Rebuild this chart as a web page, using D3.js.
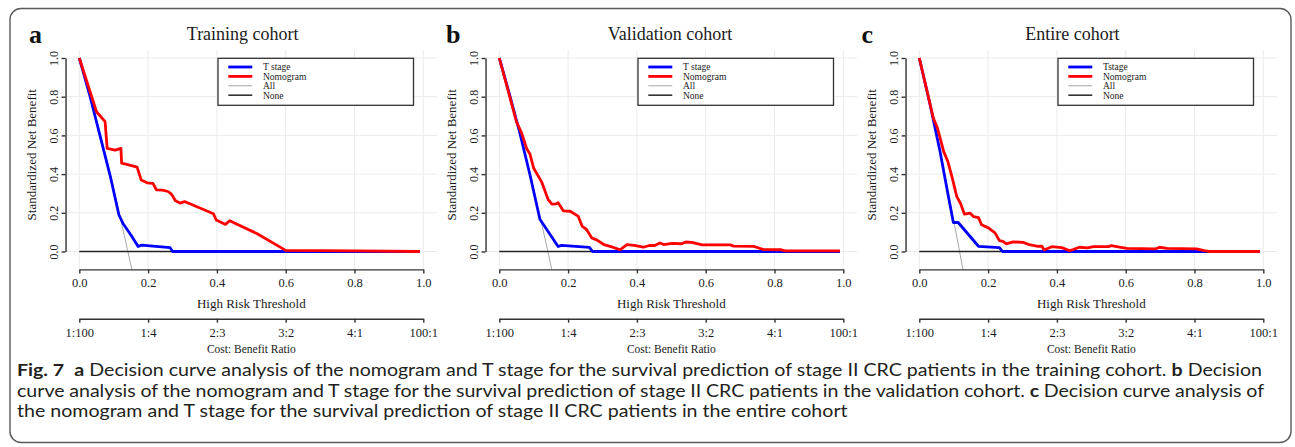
<!DOCTYPE html>
<html><head><meta charset="utf-8">
<script src="https://cdn.jsdelivr.net/npm/d3@7"></script>
<style>
html,body{margin:0;padding:0;background:#fff;}
svg{display:block;}
</style></head>
<body>
<svg id="chart" width="1295" height="447"></svg>
<script>
// ---------- data ----------
const thresholdTicks = [0, 0.2, 0.4, 0.6, 0.8, 1.0];
const ratioLabels = ["1:100", "1:4", "2:3", "3:2", "4:1", "100:1"];
const yTicks = [0, 0.2, 0.4, 0.6, 0.8, 1.0];
const panelLetters = ["a", "b", "c"];
const panelTitles = ["Training cohort", "Validation cohort", "Entire cohort"];
const tStageLabels = ["T stage", "T stage", "Tstage"];
const otherLegendLabels = ["Nomogram", "All", "None"];

const trainingTstage = [[0,1],[0.03,0.81],[0.06,0.6],[0.09,0.39],[0.105,0.27],[0.115,0.19],[0.128,0.142],[0.15,0.085],[0.171,0.026],[0.181,0.033],[0.264,0.02],[0.271,0],[0.99,0]];
const trainingNomogram = [[0,1],[0.05,0.722],[0.075,0.671],[0.078,0.6],[0.081,0.533],[0.104,0.524],[0.121,0.533],[0.123,0.457],[0.152,0.444],[0.168,0.436],[0.18,0.369],[0.197,0.355],[0.214,0.352],[0.224,0.319],[0.242,0.317],[0.258,0.31],[0.268,0.296],[0.279,0.264],[0.293,0.25],[0.306,0.258],[0.39,0.195],[0.398,0.163],[0.425,0.14],[0.437,0.159],[0.516,0.093],[0.6,0.006],[0.8,0.003],[0.99,0]];
const trainingAll = [[0,1],[0.03,0.812],[0.06,0.611],[0.09,0.398],[0.12,0.169],[0.14,0.009],[0.153,-0.095]];

const validationTstage = [[0,1],[0.03,0.81],[0.06,0.61],[0.09,0.39],[0.118,0.167],[0.171,0.026],[0.181,0.032],[0.262,0.021],[0.271,0],[0.99,0]];
const validationNomogram = [[0,1],[0.05,0.67],[0.065,0.612],[0.08,0.53],[0.089,0.504],[0.1,0.43],[0.123,0.36],[0.142,0.268],[0.153,0.245],[0.165,0.246],[0.171,0.252],[0.186,0.21],[0.206,0.208],[0.229,0.183],[0.241,0.13],[0.253,0.115],[0.269,0.07],[0.283,0.06],[0.304,0.036],[0.327,0.024],[0.351,0.009],[0.371,0.035],[0.392,0.032],[0.419,0.022],[0.436,0.031],[0.452,0.031],[0.467,0.044],[0.478,0.036],[0.502,0.042],[0.53,0.04],[0.542,0.049],[0.559,0.047],[0.59,0.034],[0.672,0.034],[0.681,0.028],[0.739,0.027],[0.768,0.01],[0.82,0.009],[0.831,0.003],[0.99,0.003]];
const validationAll = [[0,1],[0.03,0.812],[0.06,0.611],[0.09,0.398],[0.12,0.169],[0.14,0.009],[0.153,-0.095]];

const entireTstage = [[0,1],[0.03,0.77],[0.06,0.52],[0.085,0.28],[0.099,0.15],[0.113,0.15],[0.172,0.027],[0.233,0.02],[0.242,0],[0.99,0]];
const entireNomogram = [[0,1],[0.041,0.688],[0.053,0.637],[0.071,0.516],[0.083,0.465],[0.095,0.386],[0.109,0.284],[0.12,0.248],[0.131,0.193],[0.148,0.198],[0.158,0.18],[0.172,0.175],[0.181,0.138],[0.201,0.122],[0.22,0.096],[0.233,0.056],[0.243,0.052],[0.253,0.039],[0.273,0.05],[0.302,0.047],[0.32,0.035],[0.345,0.026],[0.356,0.028],[0.363,0.008],[0.385,0.025],[0.414,0.02],[0.436,0.005],[0.448,0.01],[0.465,0.022],[0.489,0.019],[0.506,0.025],[0.55,0.025],[0.558,0.03],[0.586,0.021],[0.603,0.016],[0.688,0.014],[0.698,0.022],[0.72,0.016],[0.806,0.014],[0.828,0.005],[0.843,0],[0.99,0]];
const entireAll = [[0,1],[0.03,0.767],[0.06,0.518],[0.09,0.253],[0.11,0.067],[0.117,0],[0.127,-0.095]];

const noneLine = [[0,0],[0.99,0]];

const captionLines = [
  [["Fig. 7", true], ["  ", false], ["a", true], [" Decision curve analysis of the nomogram and T stage for the survival prediction of stage II CRC patients in the training cohort. ", false], ["b", true], [" Decision", false]],
  [["curve analysis of the nomogram and T stage for the survival prediction of stage II CRC patients in the validation cohort. ", false], ["c", true], [" Decision curve analysis of", false]],
  [["the nomogram and T stage for the survival prediction of stage II CRC patients in the entire cohort", false]]
];

// ---------- layout ----------
const titleCenters = [242.7, 670, 1072.4];
const letterX = [29, 446, 861.5];

// ---------- drawing ----------
const svg = d3.select("#chart");
const serif = "'Liberation Serif','Times New Roman',serif";

svg.append("rect").attr("x", 10).attr("y", 8.5).attr("width", 1281).attr("height", 434)
  .attr("rx", 11).attr("fill", "#fff").attr("stroke", "#5a5a5a").attr("stroke-width", 1.4);

const panels = [
  {tstage: trainingTstage, nomo: trainingNomogram, all: trainingAll},
  {tstage: validationTstage, nomo: validationNomogram, all: validationAll},
  {tstage: entireTstage, nomo: entireNomogram, all: entireAll}
];

panels.forEach((p, i) => {
  const ox = 420 * i;
  const x = d3.scaleLinear().domain([0, 1]).range([79.3 + ox, 423.3 + ox]);
  const y = d3.scaleLinear().domain([0, 1]).range([251.5, 58]);
  const xl = x(-0.04), xr = x(1.04), yt = y(1.042), yb = y(-0.0925);
  const g = svg.append("g");

  // grid
  g.selectAll(".hg").data(yTicks).join("line")
    .attr("x1", xl).attr("x2", xr).attr("y1", d => y(d)).attr("y2", d => y(d))
    .attr("stroke", "#ebebeb").attr("stroke-width", 1);
  g.selectAll(".vg").data(thresholdTicks).join("line")
    .attr("x1", d => x(d)).attr("x2", d => x(d)).attr("y1", yt).attr("y2", yb)
    .attr("stroke", "#ebebeb").attr("stroke-width", 1);

  // clip
  const cid = "clip" + i;
  svg.append("clipPath").attr("id", cid).append("rect")
    .attr("x", xl).attr("y", yt).attr("width", xr - xl).attr("height", yb - yt);
  const plot = g.append("g").attr("clip-path", `url(#${cid})`);
  const line = d3.line().x(d => x(d[0])).y(d => y(d[1]));

  plot.append("path").datum(p.all).attr("d", line).attr("fill", "none").attr("stroke", "#a8a8a8").attr("stroke-width", 1);
  plot.append("path").datum(noneLine).attr("d", line).attr("fill", "none").attr("stroke", "#222").attr("stroke-width", 1.4);
  plot.append("path").datum(p.tstage).attr("d", line).attr("fill", "none").attr("stroke", "#0000ff").attr("stroke-width", 2.8).attr("stroke-linejoin", "round");
  plot.append("path").datum(p.nomo).attr("d", line).attr("fill", "none").attr("stroke", "#ff0000").attr("stroke-width", 2.8).attr("stroke-linejoin", "round");

  // axes
  const styleAxis = sel => {
    sel.attr("font-family", serif);
    sel.select(".domain").attr("stroke", "#333").attr("stroke-width", 1.4);
    sel.selectAll(".tick line").attr("stroke", "#333").attr("stroke-width", 1.4);
    sel.selectAll(".tick text").attr("font-family", serif).attr("fill", "#1a1a1a");
  };
  const xAxis = g.append("g").attr("transform", `translate(0,${yb})`)
    .call(d3.axisBottom(x).tickValues(thresholdTicks).tickSize(4).tickSizeOuter(0).tickPadding(5).tickFormat(d3.format(".1f")));
  xAxis.attr("font-size", 12.5).call(styleAxis);

  const rAxis = g.append("g").attr("transform", `translate(0,318.7)`)
    .call(d3.axisBottom(x).tickValues(thresholdTicks).tickSize(4).tickSizeOuter(0).tickPadding(5).tickFormat((d, k) => ratioLabels[k]));
  rAxis.attr("font-size", 12.5).call(styleAxis);

  const yAxis = g.append("g").attr("transform", `translate(${xl},0)`)
    .call(d3.axisLeft(y).tickValues(yTicks).tickSize(4).tickSizeOuter(0).tickFormat(d3.format(".1f")));
  yAxis.attr("font-size", 12).call(styleAxis);
  yAxis.selectAll(".tick text").attr("x", 0).attr("y", -8).attr("dy", null)
    .attr("text-anchor", "middle").attr("transform", "rotate(-90)");

  // labels
  g.append("text").attr("x", x(0.5)).attr("y", 307.5).attr("text-anchor", "middle")
    .attr("font-family", serif).attr("font-size", 13).attr("fill", "#1a1a1a").text("High Risk Threshold");
  g.append("text").attr("x", x(0.5)).attr("y", 352.5).attr("text-anchor", "middle")
    .attr("font-family", serif).attr("font-size", 11.5).attr("fill", "#1a1a1a").text("Cost: Benefit Ratio");
  g.append("text").attr("transform", `translate(${36 + ox},${y(0.5)}) rotate(-90)`).attr("text-anchor", "middle")
    .attr("font-family", serif).attr("font-size", 13).attr("fill", "#1a1a1a").text("Standardized Net Benefit");
  g.append("text").attr("x", titleCenters[i]).attr("y", 40).attr("text-anchor", "middle")
    .attr("font-family", serif).attr("font-size", 18).attr("fill", "#1a1a1a").text(panelTitles[i]);
  g.append("text").attr("x", letterX[i]).attr("y", 43).attr("font-weight", "bold")
    .attr("font-family", serif).attr("font-size", 26).attr("fill", "#111").text(panelLetters[i]);

  // legend
  const lx = 218 + ox, ly = 58.3;
  const lg = g.append("g");
  lg.append("rect").attr("x", lx).attr("y", ly).attr("width", 195.5).attr("height", 47)
    .attr("fill", "#fff").attr("stroke", "#333").attr("stroke-width", 1.3);
  const legItems = [
    {label: tStageLabels[i], color: "#0000ff", w: 2.8},
    {label: otherLegendLabels[0], color: "#ff0000", w: 2.8},
    {label: otherLegendLabels[1], color: "#a8a8a8", w: 1},
    {label: otherLegendLabels[2], color: "#333", w: 1.6}
  ];
  const rows = [67, 76.4, 85.8, 95.2];
  legItems.forEach((it, k) => {
    lg.append("line").attr("x1", lx + 10.3).attr("x2", lx + 34.3).attr("y1", rows[k]).attr("y2", rows[k])
      .attr("stroke", it.color).attr("stroke-width", it.w);
    lg.append("text").attr("x", lx + 45).attr("y", rows[k] + 3.3)
      .attr("font-family", serif).attr("font-size", 9.5).attr("fill", "#1a1a1a").text(it.label);
  });
});

// caption: condensed humanist sans, lines 1-2 justified
const capX = 17;
const capTargets = [1262 - capX, 1264 - capX, 848 - capX];
const capY = [376, 396.5, 417];
const capGroups = captionLines.map((segs, li) => {
  const gg = svg.append("g");
  const t = gg.append("text").attr("x", 0).attr("y", 0)
    .attr("font-family", "Lato,'Open Sans',sans-serif").attr("font-size", 17.5).attr("fill", "#231f20")
    .attr("xml:space", "preserve").style("white-space", "pre");
  segs.forEach(s => t.append("tspan").attr("font-weight", s[1] ? "bold" : "normal").text(s[0]));
  return {gg, t, text: segs.map(s => s[0]).join("")};
});
const lastNat = capGroups[2].t.node().getComputedTextLength();
const sx = lastNat > 0 ? capTargets[2] / lastNat : 0.9;
capGroups.forEach((c, li) => {
  c.gg.attr("transform", `translate(${capX},${capY[li]}) scale(${sx},1)`);
  if (li < 2) {
    const nat = c.t.node().getComputedTextLength();
    const spaces = (c.text.match(/ /g) || []).length;
    const ws = (capTargets[li] / sx - nat) / spaces;
    c.t.attr("word-spacing", ws);
  }
});
</script>
</body></html>
